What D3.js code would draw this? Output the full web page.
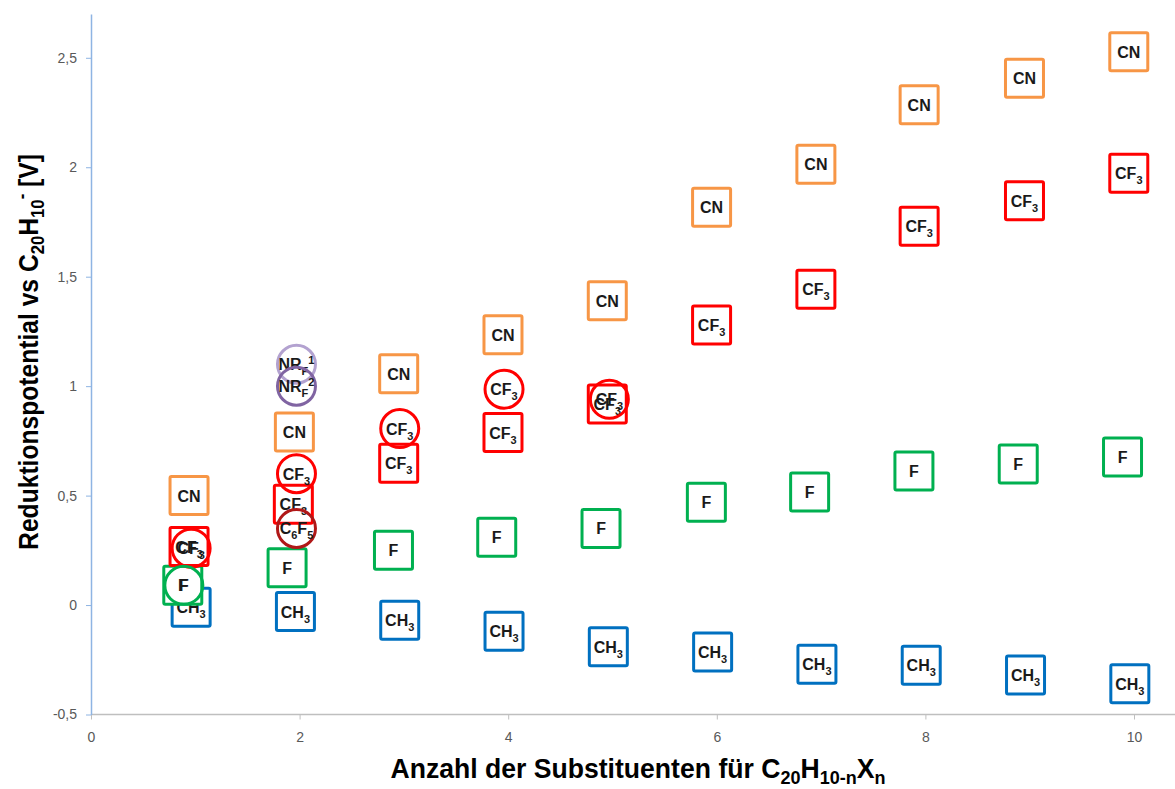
<!DOCTYPE html>
<html>
<head>
<meta charset="utf-8">
<script src="https://cdn.jsdelivr.net/npm/d3@7"></script>
<style>
  body { margin: 0; background: #fff; }
  svg { display: block; }
  .lbl { font-family: "Liberation Sans", Arial, sans-serif; font-weight: bold; font-size: 16px; fill: #1a1a1a; }
  .title { font-family: "Liberation Sans", Arial, sans-serif; font-weight: bold; font-size: 28px; fill: #000; }
</style>
</head>
<body>
<div id="container"></div>
<script>
// values (x = number of substituents, y = potential in V)
const ch3X = [0.96, 1.96, 2.96, 3.96, 4.96, 5.96, 6.96, 7.96, 8.96, 9.96];
const ch3Y = [-0.01, -0.03, -0.07, -0.12, -0.19, -0.215, -0.27, -0.275, -0.32, -0.36];
const fX = [0.88, 1.88, 2.9, 3.89, 4.89, 5.9, 6.89, 7.89, 8.89, 9.89];
const fY = [0.09, 0.17, 0.25, 0.31, 0.35, 0.47, 0.516, 0.612, 0.644, 0.676];
const cf3X = [0.94, 1.94, 2.95, 3.95, 4.95, 5.95, 6.95, 7.94, 8.95, 9.95];
const cf3Y = [0.267, 0.46, 0.648, 0.788, 0.918, 1.279, 1.443, 1.73, 1.847, 1.973];
const cnX = [0.94, 1.95, 2.95, 3.95, 4.95, 5.95, 6.95, 7.94, 8.95, 9.95];
const cnY = [0.50, 0.79, 1.057, 1.235, 1.39, 1.817, 2.014, 2.285, 2.406, 2.527];
const cf3CircX = [0.96, 1.97, 2.96, 3.96, 4.97];
const cf3CircY = [0.26, 0.60, 0.806, 0.986, 0.94];
const fCircX = [0.89];
const fCircY = [0.09];
const c6f5X = [1.97];
const c6f5Y = [0.35];
const nrf1X = [1.97];
const nrf1Y = [1.10];
const nrf2X = [1.97];
const nrf2Y = [1.00];
const yTicks = [-0.5, 0, 0.5, 1, 1.5, 2, 2.5];
const xTicks = [0, 2, 4, 6, 8, 10];

// label parts: [text, shift] where shift: 0 normal, 1 subscript, -1 superscript
const series = [
  { x: ch3X, y: ch3Y, shape: "square", color: "#0070c0", label: [["CH", 0], ["3", 1]] },
  { x: fX, y: fY, shape: "square", color: "#00b050", label: [["F", 0]] },
  { x: cf3X, y: cf3Y, shape: "square", color: "#ff0000", label: [["CF", 0], ["3", 1]] },
  { x: cnX, y: cnY, shape: "square", color: "#f79646", label: [["CN", 0]] },
  { x: cf3CircX, y: cf3CircY, shape: "circle", color: "#ff0000", label: [["CF", 0], ["3", 1]] },
  { x: fCircX, y: fCircY, shape: "circle", color: "#00b050", label: [["F", 0]] },
  { x: c6f5X, y: c6f5Y, shape: "circle", color: "#b01818", label: [["C", 0], ["6", 1], ["F", 0], ["5", 1]] },
  { x: nrf1X, y: nrf1Y, shape: "circle", color: "#b3a2d0", label: [["NR", 0], ["F", 1], ["1", -1]] },
  { x: nrf2X, y: nrf2Y, shape: "circle", color: "#8064a2", label: [["NR", 0], ["F", 1], ["2", -1]] }
];

const width = 1175, height = 789;
const margin = { top: 14, right: 0, bottom: 74, left: 91 };

const x = d3.scaleLinear().domain([0, 10.4]).range([margin.left, margin.left + 104.3 * 10.4]);
const y = d3.scaleLinear().domain([-0.5, 2.7]).range([height - margin.bottom - 0.5, margin.top]);

const svg = d3.select("#container").append("svg")
  .attr("width", width)
  .attr("height", height);

// x axis
const xAxis = svg.append("g")
  .attr("transform", `translate(0,${y(-0.5)})`)
  .call(d3.axisBottom(x).tickValues(xTicks).tickSize(5).tickPadding(13).tickSizeOuter(0));
xAxis.select(".domain").attr("stroke", "#bfbfbf").attr("stroke-width", 1.5).attr("d", `M${margin.left},0H${width}`);
xAxis.selectAll(".tick line").attr("stroke", "#bfbfbf");

// y axis
const yAxis = svg.append("g")
  .attr("transform", `translate(${margin.left},0)`)
  .call(d3.axisLeft(y).tickValues(yTicks).tickSize(5).tickPadding(9).tickSizeOuter(0)
    .tickFormat(d => String(d).replace(".", ",")));
yAxis.select(".domain").attr("stroke", "#8eb4e3").attr("stroke-width", 1.5);
yAxis.selectAll(".tick line").attr("stroke", "#8eb4e3");

svg.selectAll(".tick text")
  .attr("font-family", "'Liberation Sans', Arial, sans-serif")
  .attr("font-size", 14)
  .attr("fill", "#595959");

// markers
const half = 19, r = 19;
function addLabel(g, parts) {
  const t = g.append("text").attr("class", "lbl").attr("text-anchor", "middle").attr("y", 6);
  let cur = 0;
  parts.forEach(([s, shift]) => {
    const target = shift === 1 ? 5 : shift === -1 ? -6 : 0;
    t.append("tspan")
      .attr("dy", target - cur)
      .style("font-size", shift === 0 ? "16px" : "11px")
      .text(s);
    cur = target;
  });
}

series.forEach(s => {
  const pts = s.x.map((v, i) => ({ x: v, y: s.y[i] }));
  const g = svg.append("g").selectAll("g")
    .data(pts)
    .join("g")
    .attr("transform", d => `translate(${x(d.x)},${y(d.y)})`);
  if (s.shape === "square") {
    g.append("rect")
      .attr("x", -half).attr("y", -half)
      .attr("width", half * 2).attr("height", half * 2)
      .attr("rx", 1.5)
      .attr("fill", "#fff")
      .attr("stroke", s.color)
      .attr("stroke-width", 3);
  } else {
    g.append("circle")
      .attr("r", r)
      .attr("fill", "none")
      .attr("stroke", s.color)
      .attr("stroke-width", 3);
  }
  g.each(function() { addLabel(d3.select(this), s.label); });
});

// axis titles (narrowed to imitate a condensed face)
const xt = svg.append("text").attr("class", "title")
  .attr("transform", "translate(638,778) scale(0.95,1)")
  .attr("text-anchor", "middle");
xt.append("tspan").text("Anzahl der Substituenten für C");
xt.append("tspan").attr("dy", 6).style("font-size", "19px").text("20");
xt.append("tspan").attr("dy", -6).text("H");
xt.append("tspan").attr("dy", 6).style("font-size", "19px").text("10-n");
xt.append("tspan").attr("dy", -6).text("X");
xt.append("tspan").attr("dy", 6).style("font-size", "19px").text("n");

const yt = svg.append("text").attr("class", "title")
  .attr("transform", `translate(38,352) rotate(-90) scale(0.88,1)`)
  .attr("text-anchor", "middle");
yt.append("tspan").text("Reduktionspotential  vs C");
yt.append("tspan").attr("dy", 6).style("font-size", "19px").text("20");
yt.append("tspan").attr("dy", -6).text("H");
yt.append("tspan").attr("dy", 6).style("font-size", "19px").text("10");
yt.append("tspan").attr("dy", -16).style("font-size", "19px").text("-");
yt.append("tspan").attr("dy", 10).text(" [V]");
</script>
</body>
</html>
